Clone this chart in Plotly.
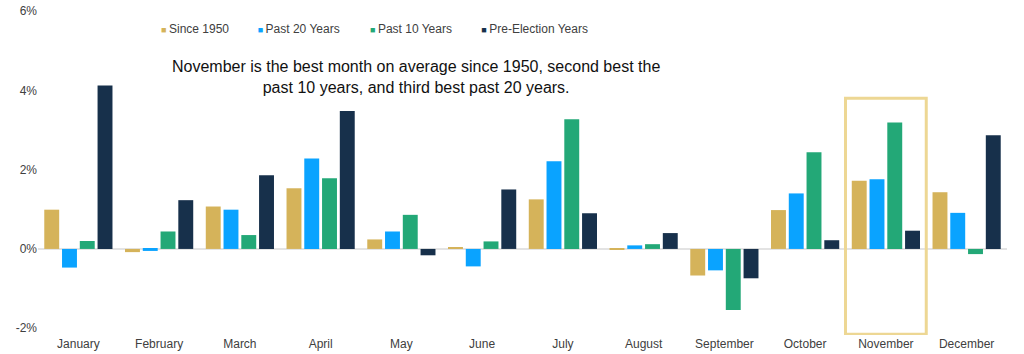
import plotly.graph_objects as go

months = ["January", "February", "March", "April", "May", "June", "July",
          "August", "September", "October", "November", "December"]
since_1950 = [0.99, -0.08, 1.07, 1.53, 0.24, 0.04, 1.25, -0.01, -0.67, 0.98, 1.72, 1.43]
past_20 = [-0.47, -0.05, 0.99, 2.28, 0.44, -0.44, 2.21, 0.09, -0.54, 1.40, 1.76, 0.91]
past_10 = [0.20, 0.44, 0.35, 1.78, 0.86, 0.19, 3.27, 0.12, -1.54, 2.44, 3.19, -0.13]
pre_election = [4.12, 1.23, 1.86, 3.48, -0.16, 1.50, 0.90, 0.40, -0.74, 0.22, 0.46, 2.87]

series_names = ["Since 1950", "Past 20 Years", "Past 10 Years", "Pre-Election Years"]
series_values = [since_1950, past_20, past_10, pre_election]
colors = ["#D5B35A", "#0AA3FF", "#23A877", "#17304B"]
y_ticks = [-2, 0, 2, 4, 6]
y_tick_labels = ["-2%", "0%", "2%", "4%", "6%"]
highlight_month = "November"
note = ("November is the best month on average since 1950, second best the<br>"
        "past 10 years, and third best past 20 years.")

FONT = "Liberation Sans, Arial, sans-serif"
legend_ids = ["legend", "legend2", "legend3", "legend4"]
legend_x = [0.0857, 0.1854, 0.3013, 0.4162]

fig = go.Figure()
for name, vals, col in zip(series_names, series_values, colors):
    fig.add_trace(go.Bar(x=months, y=vals, name=name, marker=dict(color=col, line=dict(width=0)),
                         legendgroup=name, showlegend=False))
for name, col, lid in zip(series_names, colors, legend_ids):
    fig.add_trace(go.Scatter(
        x=[None], y=[None], mode="markers", legendgroup=name, legend=lid,
        name=f"<span style='color:{col};font-size:9px'>■ </span>{name}",
        marker=dict(symbol="square", size=1, color="rgba(0,0,0,0)")))

idx = months.index(highlight_month)
fig.add_shape(type="rect", xref="x", yref="y", x0=idx - 0.5, x1=idx + 0.5, y0=-2.15, y1=3.8,
              line=dict(color="#EDD794", width=3), fillcolor="rgba(0,0,0,0)", layer="above")

fig.add_annotation(x=(416 - 38) / 969, xref="paper", y=0.795, yref="paper", text=note,
                   showarrow=False, xanchor="center", yanchor="middle",
                   font=dict(size=16, color="#111111", family=FONT), align="center")

leg_common = dict(orientation="h", xanchor="left", y=0.947, yanchor="middle",
                  font=dict(size=12, color="#404040", family=FONT), itemwidth=30,
                  bgcolor="rgba(0,0,0,0)")
legends = {lid: dict(x=lx, **leg_common) for lid, lx in zip(legend_ids, legend_x)}

fig.update_layout(
    width=1024, height=354,
    margin=dict(l=38, r=17, t=11, b=19, autoexpand=False),
    paper_bgcolor="white", plot_bgcolor="white",
    barmode="group", bargap=0.12, bargroupgap=0.16,
    font=dict(family=FONT, size=12, color="#404040"),
    showlegend=True,
    xaxis=dict(showgrid=False, showline=False, ticks="", tickfont=dict(size=12, color="#404040"),
               zeroline=False, automargin=False),
    yaxis=dict(range=[-2.17, 6.0], tickvals=y_ticks, ticktext=y_tick_labels, showgrid=False,
               zeroline=True, zerolinecolor="#E3E3E3", zerolinewidth=2, showline=False, ticks="",
               tickfont=dict(size=12, color="#404040"), automargin=False),
    **legends,
)
fig.write_html("out.html")
